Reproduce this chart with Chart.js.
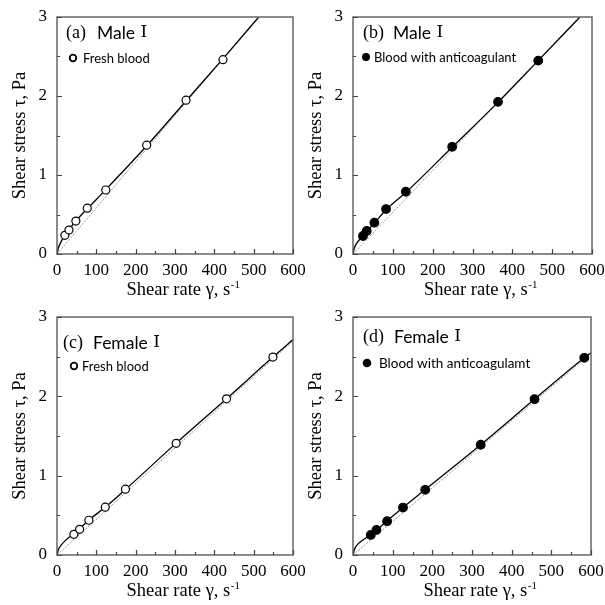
<!DOCTYPE html>
<html>
<head>
<meta charset="utf-8">
<script src="https://cdn.jsdelivr.net/npm/chart.js@4.4.0/dist/chart.umd.min.js"></script>
<style>
  body { margin: 0; background: #fff; width: 605px; height: 605px; position: relative; overflow: hidden; }
  canvas { position: absolute; }
</style>
</head>
<body>
<canvas id="panelA" width="305" height="300" style="left:0;top:0"></canvas>
<canvas id="panelB" width="305" height="300" style="left:300px;top:0"></canvas>
<canvas id="panelC" width="305" height="305" style="left:0;top:300px"></canvas>
<canvas id="panelD" width="305" height="305" style="left:300px;top:300px"></canvas>
<script>
// axis labels
const shearTicks = [0, 100, 200, 300, 400, 500, 600];
const stressTicks = [0, 1, 2, 3];

// (a) Male I, fresh blood
const rateA = [20, 30.5, 48, 77, 124, 228, 328, 422];
const stressA = [0.236, 0.303, 0.417, 0.58, 0.81, 1.378, 1.947, 2.46];
const fitRateA = [0, 3, 10, 20, 50, 100, 230, 330, 420, 513];
const fitStressA = [0, 0.07, 0.15, 0.235, 0.43, 0.69, 1.38, 1.95, 2.46, 3.0];
const newtRateA = [0, 513];
const newtStressA = [0, 3.0];

// (b) Male I, blood with anticoagulant
const rateB = [25, 34.4, 53.7, 83, 132.6, 249, 364, 465];
const stressB = [0.228, 0.291, 0.396, 0.569, 0.788, 1.357, 1.926, 2.448];
const fitRateB = [0, 3, 10, 25, 55, 85, 135, 250, 365, 465, 570];
const fitStressB = [0, 0.07, 0.14, 0.228, 0.4, 0.57, 0.79, 1.357, 1.926, 2.448, 3.0];
const newtRateB = [0, 568];
const newtStressB = [0, 3.0];

// (c) Female I, fresh blood
const rateC = [43, 57.5, 81, 122.7, 174, 303, 431, 549];
const stressC = [0.261, 0.324, 0.438, 0.603, 0.83, 1.408, 1.968, 2.495];
const fitRateC = [0, 3, 10, 25, 43, 80, 123, 175, 303, 431, 549, 600];
const fitStressC = [0, 0.06, 0.12, 0.2, 0.265, 0.435, 0.605, 0.83, 1.41, 1.97, 2.495, 2.715];
const newtRateC = [0, 600];
const newtStressC = [0, 2.70];

// (d) Female I, blood with anticoagulant
const rateD = [44.7, 59, 86, 126, 182, 322, 457.6, 583];
const stressD = [0.253, 0.316, 0.426, 0.598, 0.822, 1.39, 1.964, 2.486];
const fitRateD = [0, 3, 8.4, 25, 45, 86, 126, 182, 322, 458, 583, 600];
const fitStressD = [0, 0.06, 0.114, 0.19, 0.255, 0.43, 0.6, 0.825, 1.39, 1.965, 2.486, 2.55];
const newtRateD = [0, 600];
const newtStressD = [0, 2.54];

const panelTags = ['(a)', '(b)', '(c)', '(d)'];
const panelNames = ['Male', 'Male', 'Female', 'Female'];
const panelGroup = 'Ⅰ';
const legendNames = ['Fresh blood', 'Blood with anticoagulant', 'Fresh blood', 'Blood with anticoagulamt'];

const serif = '"Liberation Serif", "Times New Roman", serif';
const sans = 'Lato, "Open Sans", sans-serif';
const numeral = '"DejaVu Serif", "Noto Sans CJK JP", serif';

function pairs(xs, ys) {
    return xs.map((x, i) => ({ x: x, y: ys[i] }));
}

// frame, inward ticks, axis titles, panel heading and legend
const decor = {
    id: 'decor',
    afterDraw(chart, args, o) {
        const ctx = chart.ctx;
        const a = chart.chartArea;
        const xs = chart.scales.x, ys = chart.scales.y;
        ctx.save();

        ctx.strokeStyle = '#666';
        ctx.lineWidth = 1.5;
        ctx.strokeRect(Math.round(a.left), Math.round(a.top),
            Math.round(a.right - a.left), Math.round(a.bottom - a.top));

        ctx.lineWidth = 1.2;
        ctx.strokeStyle = '#444';
        ctx.beginPath();
        xs.ticks.forEach(t => {
            const px = Math.round(xs.getPixelForValue(t.value)) + 0.5;
            const len = t.value % 100 === 0 ? 5 : 3;
            ctx.moveTo(px, a.bottom);
            ctx.lineTo(px, a.bottom - len);
        });
        ys.ticks.forEach(t => {
            const py = Math.round(ys.getPixelForValue(t.value)) + 0.5;
            const len = Number.isInteger(t.value) ? 5 : 3;
            ctx.moveTo(a.left, py);
            ctx.lineTo(a.left + len, py);
        });
        ctx.stroke();

        ctx.fillStyle = '#000';
        ctx.strokeStyle = '#000';
        // y axis title
        ctx.save();
        ctx.translate(a.left - 37, (a.top + a.bottom) / 2);
        ctx.rotate(-Math.PI / 2);
        ctx.font = '18.5px ' + serif;
        ctx.textAlign = 'center';
        ctx.textBaseline = 'middle';
        ctx.fillText('Shear stress τ, Pa', 0, 0);
        ctx.restore();

        // x axis title with superscript
        ctx.textBaseline = 'alphabetic';
        ctx.textAlign = 'left';
        ctx.font = '18.5px ' + serif;
        const main = 'Shear rate γ, s';
        const w1 = ctx.measureText(main).width;
        ctx.font = '11px ' + serif;
        const w2 = ctx.measureText('-1').width;
        const tx = (a.left + a.right) / 2 + 8 - (w1 + w2) / 2;
        const ty = a.bottom + o.xTitleDy;
        ctx.font = '18.5px ' + serif;
        ctx.fillText(main, tx, ty);
        ctx.font = '11px ' + serif;
        ctx.fillText('-1', tx + w1 + 0.5, ty - 7);

        // heading: tag, name and group numeral
        ctx.textBaseline = 'middle';
        ctx.font = '18px ' + serif;
        ctx.fillText(o.tag, a.left + o.tagDx, a.top + o.headDy);
        ctx.font = '17.5px ' + sans;
        const nx = a.left + o.nameDx;
        ctx.fillText(o.name, nx, a.top + o.headDy);
        const nw = ctx.measureText(o.name + ' ').width;
        ctx.font = '17px ' + numeral;
        ctx.fillText(panelGroup, nx + nw + 1, a.top + o.headDy);

        // legend entry
        const mx = a.left + o.markDx, my = a.top + o.legDy;
        ctx.beginPath();
        if (o.filled) {
            ctx.arc(mx, my, o.markR, 0, Math.PI * 2);
            ctx.fill();
        } else {
            ctx.lineWidth = 1.8;
            ctx.arc(mx, my, o.markR, 0, Math.PI * 2);
            ctx.stroke();
        }
        ctx.font = o.legFont + 'px ' + sans;
        ctx.fillText(o.legend, a.left + o.legDx, my + 0.5);
        ctx.restore();
    }
};

function makePanel(id, rate, stress, fitRate, fitStress, newtRate, newtStress, filled, box) {
    const canvas = document.getElementById(id);
    return new Chart(canvas, {
        type: 'line',
        data: {
            datasets: [
                {
                    data: pairs(rate, stress),
                    showLine: false,
                    pointRadius: filled ? 4.3 : 4,
                    pointBorderWidth: 1.2,
                    pointBorderColor: '#000',
                    pointBackgroundColor: filled ? '#000' : '#fff'
                },
                {
                    data: pairs(fitRate, fitStress),
                    borderColor: '#000',
                    borderWidth: 1.3,
                    pointRadius: 0,
                    cubicInterpolationMode: 'monotone'
                },
                {
                    data: pairs(newtRate, newtStress),
                    borderColor: '#8a8a8a',
                    borderWidth: 0.9,
                    borderDash: [2, 1.5],
                    pointRadius: 0
                }
            ]
        },
        options: {
            responsive: false,
            animation: false,
            events: [],
            layout: { padding: { left: 0, top: box.top, right: canvas.width - box.right, bottom: canvas.height - box.bottom - 40 } },
            plugins: {
                legend: { display: false },
                tooltip: { enabled: false },
                decor: box.text
            },
            scales: {
                x: {
                    type: 'linear', min: 0, max: 600,
                    grid: { display: false, drawTicks: false },
                    border: { display: false },
                    ticks: {
                        stepSize: 50, autoSkip: false, maxRotation: 0, padding: 6,
                        color: '#000', font: { family: serif, size: 17 },
                        callback: v => shearTicks.includes(v) ? String(v) : ''
                    },
                    afterFit: s => { s.height = 40; s.paddingLeft = 0; s.paddingRight = 0; }
                },
                y: {
                    type: 'linear', min: 0, max: 3,
                    grid: { display: false, drawTicks: false },
                    border: { display: false },
                    ticks: {
                        stepSize: 0.5, autoSkip: false, padding: 10,
                        color: '#000', font: { family: serif, size: 17 },
                        callback: v => stressTicks.includes(v) ? String(v) : ''
                    },
                    afterFit: s => { s.width = box.left; s.paddingTop = 0; s.paddingBottom = 0; }
                }
            }
        },
        plugins: [decor]
    });
}

function textOpts(i, extra) {
    return Object.assign({
        tag: panelTags[i], name: panelNames[i], legend: legendNames[i],
        filled: i % 2 === 1, xTitleDy: 41
    }, extra);
}

makePanel('panelA', rateA, stressA, fitRateA, fitStressA, newtRateA, newtStressA, false,
    { left: 57, right: 293, top: 17, bottom: 254,
      text: textOpts(0, { tagDx: 9, nameDx: 40, headDy: 16, markDx: 16, legDx: 26, legDy: 41, markR: 3.3, legFont: 13 }) });
makePanel('panelB', rateB, stressB, fitRateB, fitStressB, newtRateB, newtStressB, true,
    { left: 53, right: 292, top: 17, bottom: 254,
      text: textOpts(1, { tagDx: 10, nameDx: 40, headDy: 16, markDx: 13, legDx: 21, legDy: 40, markR: 4, legFont: 13 }) });
makePanel('panelC', rateC, stressC, fitRateC, fitStressC, newtRateC, newtStressC, false,
    { left: 57, right: 293, top: 17, bottom: 255,
      text: textOpts(2, { tagDx: 6, nameDx: 36, headDy: 26, markDx: 17, legDx: 25, legDy: 49, markR: 3.3, legFont: 13 }) });
makePanel('panelD', rateD, stressD, fitRateD, fitStressD, newtRateD, newtStressD, true,
    { left: 53, right: 291, top: 17, bottom: 255,
      text: textOpts(3, { tagDx: 10, nameDx: 41, headDy: 20, markDx: 14, legDx: 26, legDy: 46, markR: 4.3, legFont: 13.5 }) });
</script>
</body>
</html>
